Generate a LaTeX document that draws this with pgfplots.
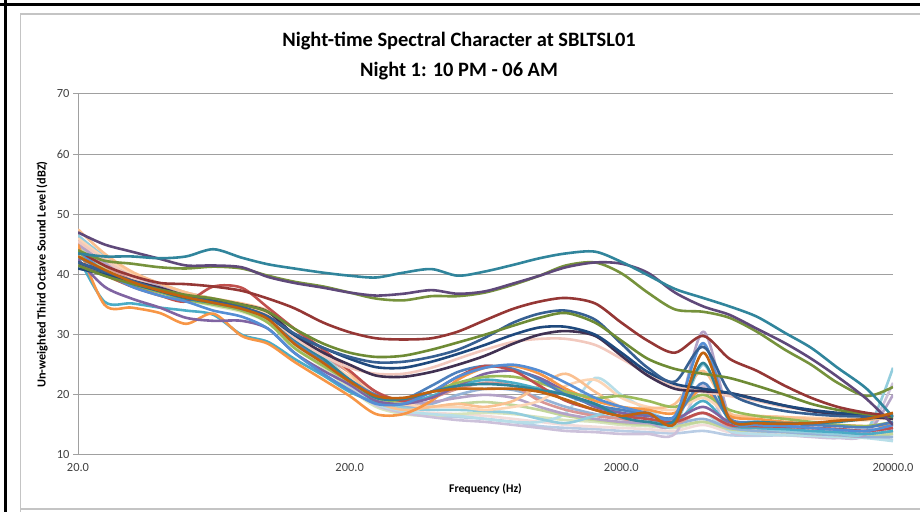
\documentclass[border=0pt]{standalone}
\usepackage{pgfplots}
\pgfplotsset{compat=1.18}
\usepackage{pgfplotstable}
\usepackage{fontspec}
\setmainfont{Carlito}

\definecolor{gridgray}{HTML}{A0A0A0}
\definecolor{framegray}{HTML}{C4C4C4}
\definecolor{ticktext}{HTML}{404040}
\definecolor{cTealA}{HTML}{31859C}
\definecolor{cPurpA}{HTML}{5F497A}
\definecolor{cOlvA}{HTML}{76923C}
\definecolor{cRedA}{HTML}{953735}
\definecolor{cGrnB}{HTML}{6E8B35}
\definecolor{cBluB}{HTML}{376092}
\definecolor{cNavB}{HTML}{1F497D}
\definecolor{cPrpB}{HTML}{403152}
\definecolor{cPchB}{HTML}{F2C9BE}
\definecolor{cRedL}{HTML}{C0504D}
\definecolor{cBluL}{HTML}{4F81BD}
\definecolor{cGrnL}{HTML}{9BBB59}
\definecolor{cPrpL}{HTML}{8064A2}
\definecolor{cAquL}{HTML}{4BACC6}
\definecolor{cOrgL}{HTML}{F79646}
\definecolor{cLbl}{HTML}{95B3D7}
\definecolor{cPnk}{HTML}{D99694}
\definecolor{cLgr}{HTML}{C3D69B}
\definecolor{cLav}{HTML}{B3A2C7}
\definecolor{cLqa}{HTML}{93CDDD}
\definecolor{cLor}{HTML}{FAC090}
\definecolor{cPc}{HTML}{FCD5B5}
\definecolor{cIce}{HTML}{B7DEE8}
\definecolor{cStl}{HTML}{B9CDE5}
\definecolor{cPpk}{HTML}{F2DCDB}
\definecolor{cPgr}{HTML}{D7E4BD}
\definecolor{cPlv}{HTML}{CCC1DA}
\definecolor{cBrn}{HTML}{C0620F}
\definecolor{cTlL}{HTML}{2F8399}
\definecolor{cBl}{HTML}{558ED5}

% one row per series, one column per third-octave band (Hz)
\pgfplotstableread{
name 20 25 31.5 40 50 63 80 100 125 160 200 250 315 400 500 630 800 1000 1250 1600 2000 2500 3150 4000 5000 6300 8000 10000 12500 16000 20000
tealA 43.5 43.0 43.0 42.7 43.0 44.2 42.8 41.7 41.0 40.3 39.8 39.5 40.3 40.9 39.8 40.5 41.6 42.7 43.5 43.8 42.1 39.9 37.6 36.1 34.7 33.0 30.3 27.8 24.5 21.0 16.3
purpA 47.0 45.0 43.8 42.6 41.5 41.5 41.2 39.6 38.6 37.8 37.0 36.5 36.8 37.4 36.8 37.2 38.5 39.8 41.2 42.0 41.8 40.3 37.0 34.7 33.3 31.0 28.6 26.0 23.0 19.3 15.0
olvA 44.0 42.3 41.8 41.2 41.0 41.3 41.0 39.8 38.8 38.0 37.0 36.0 35.7 36.4 36.4 37.0 38.3 39.8 41.5 42.0 40.2 37.0 34.2 33.8 32.8 30.5 27.5 25.0 22.0 19.8 21.3
redA 44.0 41.5 39.8 38.6 38.4 38.0 37.3 36.0 34.4 32.0 30.4 29.4 29.2 29.4 30.5 32.4 34.3 35.5 36.1 35.2 32.0 29.0 27.0 29.8 26.0 24.0 21.5 19.5 18.0 17.0 16.5
grnB 41.5 39.8 38.5 37.5 36.6 36.0 35.0 33.8 31.0 28.5 27.0 26.3 26.5 27.5 28.7 30.0 31.5 32.8 33.6 32.0 29.0 26.0 24.3 23.5 22.8 21.5 20.0 18.5 17.5 16.8 16.3
bluB 42.0 40.5 39.0 37.5 36.4 35.5 34.6 33.0 30.2 27.8 26.3 25.4 25.5 26.3 27.5 29.5 32.0 33.5 34.0 32.5 28.5 24.5 22.2 28.0 20.5 18.3 17.3 16.8 16.5 16.4 16.5
navB 41.0 40.0 38.6 37.3 36.2 35.6 34.5 33.0 30.0 27.8 26.0 24.6 24.5 25.5 26.8 28.3 30.0 31.2 31.3 30.0 27.0 23.8 21.8 21.0 20.3 19.2 18.2 17.5 17.0 16.7 16.5
prpB 42.0 40.5 39.0 37.8 36.5 35.8 35.0 33.8 30.0 27.0 25.0 23.2 23.0 23.8 25.0 26.5 28.5 30.0 30.6 29.8 26.5 23.2 21.0 20.6 20.3 19.3 18.2 17.3 16.8 16.4 16.0
pchB 45.5 42.5 39.5 37.8 36.5 35.5 34.5 33.0 29.5 26.5 24.5 23.5 23.5 24.5 26.0 27.5 28.8 29.3 29.3 28.3 26.0 23.5 21.5 20.5 19.8 19.0 18.0 17.5 17.0 16.5 16.3
redL 42.0 40.0 38.0 36.5 35.5 38.0 37.8 34.5 31.0 27.5 24.0 20.5 19.0 20.5 23.0 24.8 24.0 21.5 19.0 17.5 16.5 16.0 15.5 17.0 15.0 14.8 14.7 14.5 14.3 14.0 14.5
bluL 43.0 40.5 38.8 37.5 36.3 35.3 34.3 32.8 29.0 25.5 22.5 20.0 19.3 21.5 23.8 24.8 24.3 22.5 20.0 18.3 17.5 16.8 16.3 22.0 16.0 15.5 15.2 15.0 14.8 14.6 15.5
grnL 44.0 40.0 38.2 37.0 35.8 35.0 34.0 32.0 27.8 24.8 22.2 19.5 19.0 20.5 22.0 23.0 23.0 22.0 20.5 19.5 19.8 19.0 18.0 20.0 17.5 16.5 16.0 15.5 15.0 14.8 15.5
prpL 42.5 38.0 36.0 34.5 32.8 32.3 32.3 31.0 27.0 24.0 21.7 19.0 18.5 19.5 21.5 23.5 24.0 22.8 20.5 18.0 17.0 16.5 16.0 18.0 15.5 15.0 14.8 14.5 14.3 14.0 14.5
aquL 43.0 35.5 35.2 34.5 34.0 33.3 30.0 28.8 26.0 23.2 20.5 18.8 18.5 19.8 21.5 22.5 22.0 21.0 20.0 18.5 17.0 16.0 15.5 19.0 15.0 14.5 14.3 14.0 13.8 13.5 14.0
orgL 45.0 35.0 34.5 33.6 31.8 33.5 29.8 28.5 25.5 22.5 19.8 16.8 16.8 19.0 22.5 24.5 24.8 23.5 21.0 19.0 18.0 17.5 17.0 21.0 16.5 16.0 15.5 15.2 15.0 14.8 15.0
lbl 46.0 42.5 40.0 38.2 36.8 35.8 34.8 33.2 29.5 26.0 22.2 19.0 18.0 18.5 20.0 21.0 20.8 19.5 18.0 16.8 16.0 15.5 15.2 16.0 14.5 14.0 13.8 13.5 13.3 13.0 13.0
pnk 45.5 41.5 39.3 37.8 36.5 35.5 34.8 33.5 30.0 26.5 23.7 20.5 19.0 19.5 21.0 22.0 21.5 19.0 17.5 16.5 16.0 15.5 15.2 17.0 14.8 14.5 14.3 14.0 13.8 13.5 14.0
lgr 44.5 41.0 39.0 37.5 36.0 35.2 34.2 32.5 28.5 25.3 22.0 19.0 18.2 18.0 18.5 18.8 18.3 17.5 16.5 15.8 15.3 15.0 14.8 15.5 14.3 14.0 13.8 13.5 13.3 13.0 13.5
lav 45.0 42.0 39.8 38.0 36.5 35.5 34.5 33.0 29.0 25.5 22.2 19.5 18.5 18.8 19.5 20.0 19.5 18.0 16.8 16.0 15.5 15.3 15.5 30.5 16.5 14.5 14.0 13.8 13.5 13.5 20.0
lqa 46.5 43.0 40.3 38.5 37.0 36.0 35.0 33.5 29.8 26.3 22.7 19.0 17.8 17.5 17.5 17.3 17.0 16.0 15.3 16.5 17.5 16.0 15.0 25.0 15.5 14.5 14.0 13.8 13.5 14.0 24.5
lor 47.5 43.5 40.5 38.5 37.0 36.0 35.2 34.0 31.0 27.5 23.7 19.0 17.5 18.0 18.5 18.0 19.0 21.5 23.5 20.5 18.0 17.8 18.5 24.0 17.0 16.5 16.3 16.0 16.0 15.8 16.5
pc 46.0 42.8 40.2 38.5 37.0 36.0 35.0 33.3 29.3 25.8 23.0 20.0 18.5 18.0 18.0 17.5 18.0 19.0 21.5 22.5 19.5 18.0 17.5 19.5 16.8 16.5 16.3 16.2 16.0 16.0 16.0
ice 45.0 42.0 39.5 38.0 36.5 35.5 34.3 32.8 28.8 25.3 21.7 18.5 17.3 16.8 16.5 16.0 15.5 15.5 17.0 22.8 20.0 17.5 15.5 17.0 14.0 13.5 13.3 13.2 13.0 12.8 12.3
stl 44.0 41.0 39.0 37.3 36.0 35.0 34.0 32.3 28.3 24.8 21.2 18.3 17.0 16.5 16.3 16.0 15.5 14.8 14.5 14.3 14.0 13.8 13.6 14.0 13.3 13.2 13.3 13.4 13.2 13.0 12.5
ppk 45.0 42.0 39.5 37.8 36.3 35.3 34.3 32.8 28.8 25.0 21.5 18.5 17.3 17.0 16.8 16.5 16.0 15.5 15.0 14.7 14.5 14.3 14.0 15.0 13.8 13.8 13.8 13.6 13.5 13.3 13.5
pgr 43.5 40.5 38.7 37.2 35.8 34.8 33.8 32.0 28.0 24.5 21.0 18.0 16.8 16.5 16.8 17.0 16.8 16.3 15.8 15.5 15.0 14.8 14.5 15.5 14.2 14.0 13.8 13.6 13.5 13.2 13.8
plv 44.5 41.5 39.3 37.6 36.2 35.2 34.2 32.5 28.5 25.0 21.5 18.3 17.0 16.3 15.8 15.5 15.0 14.5 14.0 13.8 13.5 13.5 13.5 21.5 14.0 13.5 13.3 13.0 12.8 13.5 22.0
brn 43.0 40.8 38.8 37.3 36.2 35.3 34.3 32.6 28.5 25.3 22.2 19.8 19.5 20.5 21.0 21.0 21.0 20.5 19.2 17.5 16.5 17.0 15.2 27.0 16.0 15.3 15.2 15.3 15.7 16.0 17.0
tlL 42.0 40.3 38.5 37.2 36.0 35.3 34.5 33.0 29.3 26.0 22.5 19.5 19.3 20.5 21.5 21.8 21.5 20.8 20.0 18.5 16.3 15.5 15.8 25.3 15.8 15.5 15.3 15.3 15.5 16.0 16.5
bl 44.0 40.5 38.0 36.5 35.5 34.0 33.0 31.0 27.0 23.5 20.8 18.5 18.5 20.5 23.0 24.5 25.0 24.0 22.0 19.5 18.0 17.0 16.5 28.6 16.0 15.0 14.8 14.5 14.2 14.0 15.0
}\rawdata
\pgfplotstabletranspose[colnames from=name]{\spec}{\rawdata}

\newcommand{\spectrum}[2]{\addplot[color=#2] table[x=colnames, y=#1] {\spec};}

\begin{document}
\begin{tikzpicture}[x=1bp,y=1bp]
\useasboundingbox (0,0) rectangle (920,512);
% outer frame
\fill[black] (3.5,0) rectangle (7,512);
\fill[black] (0,505.5) rectangle (920,509);
\draw[framegray, line width=1.5bp] (20.5,0) -- (20.5,498) -- (920,498);
\draw[framegray, line width=1.5bp] (20.5,3) -- (920,3);
% titles
\node[anchor=base, font=\fontsize{20.5}{24}\selectfont\bfseries] at (459,465) {Night-time Spectral Character at SBLTSL01};
\node[anchor=base, font=\fontsize{20.5}{24}\selectfont\bfseries] at (459,435) {Night 1: 10 PM - 06 AM};
\node[rotate=90, font=\fontsize{12.3}{14}\selectfont\bfseries] at (42,237.5) {Un-weighted Third Octave Sound Level (dBZ)};
\node[font=\fontsize{11.8}{14}\selectfont\bfseries] at (485.5,23) {Frequency (Hz)};

\begin{axis}[
  at={(78bp,57bp)}, anchor=south west, scale only axis,
  width=815bp, height=361bp,
  xmode=log, xmin=20, xmax=20000, ymin=10, ymax=70,
  xtick={20,200,2000,20000}, xticklabels={20.0,200.0,2000.0,20000.0},
  xminorticks=false,
  ytick={10,20,30,40,50,60,70},
  axis x line*=bottom, axis y line*=left,
  axis line style={draw=gridgray, line width=1bp, -},
  ymajorgrids, grid style={draw=gridgray, line width=1bp},
  tick label style={font=\fontsize{12.5}{14}\selectfont, text=ticktext},
  /pgf/number format/assume math mode=true,
  xtick style={draw=none},
  ytick style={draw=gridgray, line width=1bp},
  tick align=outside, major tick length=5bp,
  every axis plot/.append style={smooth, tension=0.5, line width=2.6bp, no markers, line join=round},
]
\spectrum{stl}{cStl}
\spectrum{ppk}{cPpk}
\spectrum{pgr}{cPgr}
\spectrum{plv}{cPlv}
\spectrum{ice}{cIce}
\spectrum{lgr}{cLgr}
\spectrum{lbl}{cLbl}
\spectrum{pnk}{cPnk}
\spectrum{lav}{cLav}
\spectrum{lqa}{cLqa}
\spectrum{pc}{cPc}
\spectrum{lor}{cLor}
\spectrum{aquL}{cAquL}
\spectrum{orgL}{cOrgL}
\spectrum{prpL}{cPrpL}
\spectrum{grnL}{cGrnL}
\spectrum{bluL}{cBluL}
\spectrum{redL}{cRedL}
\spectrum{bl}{cBl}
\spectrum{tlL}{cTlL}
\spectrum{pchB}{cPchB}
\spectrum{prpB}{cPrpB}
\spectrum{navB}{cNavB}
\spectrum{bluB}{cBluB}
\spectrum{grnB}{cGrnB}
\spectrum{redA}{cRedA}
\spectrum{olvA}{cOlvA}
\spectrum{purpA}{cPurpA}
\spectrum{tealA}{cTealA}
\spectrum{brn}{cBrn}
\end{axis}
\end{tikzpicture}
\end{document}
